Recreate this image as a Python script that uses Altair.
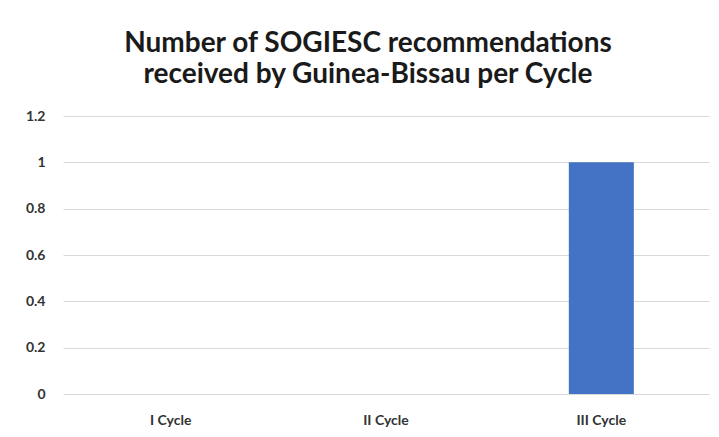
import altair as alt
import pandas as pd

categories = ["I Cycle", "II Cycle", "III Cycle"]
values = [0, 0, 1]
y_ticks = [0, 0.2, 0.4, 0.6, 0.8, 1, 1.2]

df = pd.DataFrame({"cycle": categories, "count": values})

chart = alt.Chart(df).mark_bar(size=65, color="#4472C4").encode(
    x=alt.X("cycle:N", sort=categories, title=None,
            axis=alt.Axis(labelAngle=0, domain=False, ticks=False, grid=False,
                          labelFont="Lato", labelFontWeight="bold", labelFontSize=14,
                          labelColor="#333333", labelPadding=19)),
    y=alt.Y("count:Q", title=None,
            scale=alt.Scale(domain=[0, 1.2], nice=False),
            axis=alt.Axis(values=y_ticks, domain=False, ticks=False,
                          gridColor="#d9d9d9", gridWidth=1,
                          labelFont="Lato", labelFontWeight="bold", labelFontSize=14,
                          labelColor="#333333", labelPadding=18,
                          labelExpr="datum.value == 0 ? '0' : format(datum.value, '.1~f')")),
).properties(
    width=646,
    height=278,
    autosize=alt.AutoSizeParams(type="none"),
    padding={"left": 55, "top": 108, "right": 2, "bottom": 35},
    title=alt.TitleParams(
        text=["Number of SOGIESC recommendations", "received by Guinea-Bissau per Cycle"],
        font="Lato", fontSize=28, fontWeight="bold", color="#1a1a1a",
        anchor="middle", dx=-18, offset=20, lineHeight=31,
    ),
).configure_view(stroke=None)

chart.save("out.html", embed_options={"renderer": "svg", "actions": False})
